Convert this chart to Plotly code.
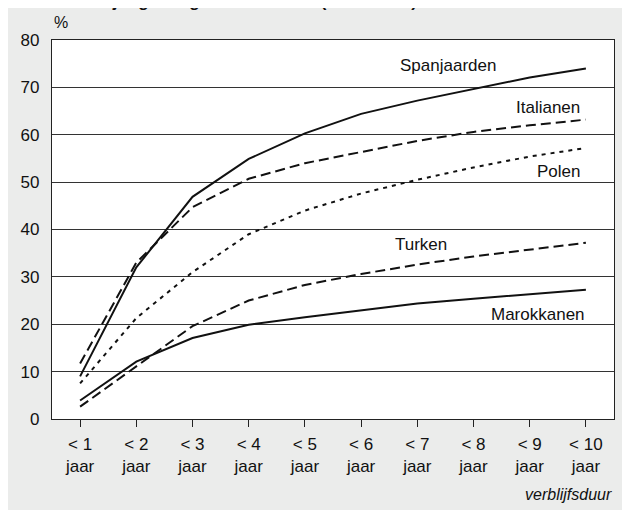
import plotly.graph_objects as go

categories = ["< 1<br>jaar", "< 2<br>jaar", "< 3<br>jaar", "< 4<br>jaar", "< 5<br>jaar",
              "< 6<br>jaar", "< 7<br>jaar", "< 8<br>jaar", "< 9<br>jaar", "< 10<br>jaar"]
spanjaarden = [9.0, 32.0, 46.9, 54.9, 60.3, 64.4, 67.2, 69.7, 72.1, 74.0]
italianen = [11.7, 33.0, 44.7, 50.7, 54.0, 56.4, 58.7, 60.6, 62.0, 63.2]
polen = [7.5, 21.3, 31.0, 39.0, 44.0, 47.6, 50.5, 53.1, 55.4, 57.2]
turken = [2.6, 11.1, 19.6, 25.0, 28.3, 30.6, 32.6, 34.3, 35.8, 37.2]
marokkanen = [3.9, 12.1, 17.1, 19.9, 21.5, 22.9, 24.4, 25.4, 26.4, 27.3]
y_ticks = [0, 10, 20, 30, 40, 50, 60, 70, 80]

FONT = "Liberation Sans, Arial, Helvetica, sans-serif"
x = list(range(len(categories)))

series = [
    ("Spanjaarden", spanjaarden, "solid"),
    ("Italianen", italianen, "10px,5px"),
    ("Polen", polen, "4px,5px"),
    ("Turken", turken, "10px,5px"),
    ("Marokkanen", marokkanen, "solid"),
]

fig = go.Figure()
for name, vals, dash in series:
    fig.add_trace(go.Scatter(x=x, y=vals, mode="lines", name=name,
                             line=dict(color="#111111", width=2, dash=dash),
                             showlegend=False))

W, H = 630, 510
L, R, T, B = 44, 24, 32, 99
pw, ph = W - L - R, H - T - B


def px_x(p):
    return (p - L) / pw


def px_y(p):
    return (H - B - p) / ph


fig.update_layout(
    width=W, height=H,
    margin=dict(l=L, r=R, t=T, b=B),
    paper_bgcolor="#ebeceb",
    plot_bgcolor="#ffffff",
    font=dict(family=FONT, size=17, color="#111111"),
    showlegend=False,
)

fig.update_xaxes(
    range=[-0.5, 9.5], tickmode="array", tickvals=x, ticktext=categories,
    showgrid=False, zeroline=False, showline=True, linecolor="#222222", linewidth=1.2,
    mirror=True, ticks="outside", ticklen=7, tickcolor="#222222", tickwidth=1.2,
    tickfont=dict(size=17), ticklabelstandoff=2,
)
fig.update_yaxes(
    range=[0, 80], tickmode="array", tickvals=y_ticks,
    showgrid=True, gridcolor="#333333", gridwidth=1, zeroline=False,
    showline=True, linecolor="#222222", linewidth=1.2, mirror=True,
    ticks="", tickfont=dict(size=17), ticklabelstandoff=8,
)

annotations = [
    dict(text="Spanjaarden", x=5.66, y=74.6, xanchor="left", yanchor="middle"),
    dict(text="Italianen", x=8.93, y=65.8, xanchor="right", yanchor="middle"),
    dict(text="Polen", x=8.93, y=52.2, xanchor="right", yanchor="middle"),
    dict(text="Turken", x=5.57, y=36.8, xanchor="left", yanchor="middle"),
    dict(text="Marokkanen", x=9.02, y=22.0, xanchor="right", yanchor="middle"),
]
for a in annotations:
    fig.add_annotation(xref="x", yref="y", showarrow=False,
                       font=dict(size=17, family=FONT, color="#111111"), **a)

fig.add_annotation(text="%", xref="paper", yref="paper", x=px_x(44), y=px_y(14),
                   xanchor="left", yanchor="middle", showarrow=False,
                   font=dict(size=16, family=FONT, color="#111111"))
fig.add_annotation(text="<i>verblijfsduur</i>", xref="paper", yref="paper",
                   x=px_x(606), y=px_y(486), xanchor="right", yanchor="middle",
                   showarrow=False, font=dict(size=16, family=FONT, color="#111111"))
fig.add_annotation(text="<b>Aandeel jongeren genaturaliseerd (cumulatief)</b>",
                   xref="paper", yref="paper", x=px_x(32), y=px_y(5),
                   xanchor="left", yanchor="bottom", showarrow=False,
                   font=dict(size=17, family=FONT, color="#111111"))

fig.write_html("out.html")
